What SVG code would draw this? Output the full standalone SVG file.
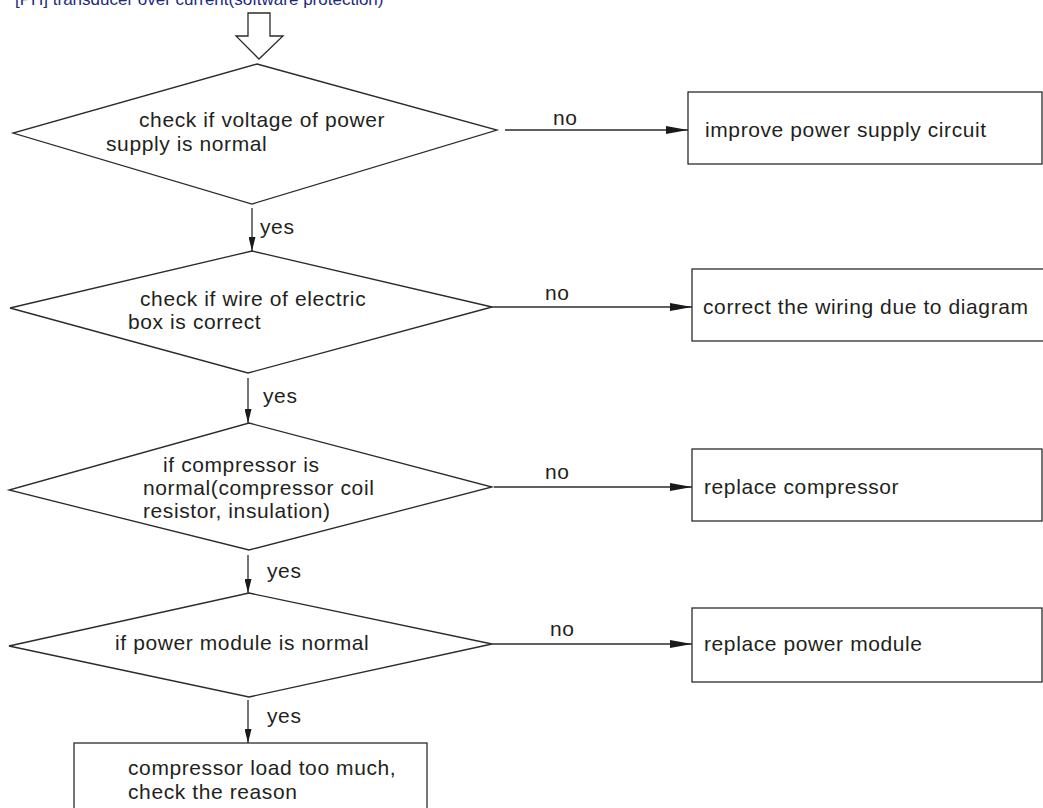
<svg xmlns="http://www.w3.org/2000/svg" width="1043" height="808" viewBox="0 0 1043 808">
  <style>
    .shape { fill: #ffffff; stroke: #2b2b2b; stroke-width: 1.3; }
    .wire { fill: none; stroke: #2b2b2b; stroke-width: 1.3; }
    .txt { font-family: "Liberation Sans", Arial, sans-serif; font-size: 21px; letter-spacing: 0.6px; fill: #231f20; }
    .title { font-family: "Liberation Sans", Arial, sans-serif; font-size: 17px; fill: #1c2a80; }
  </style>
  <defs>
    <marker id="ah" viewBox="0 0 22 8" refX="22" refY="4" markerWidth="22" markerHeight="8" markerUnits="userSpaceOnUse" orient="auto">
      <path d="M0,0 L22,4 L0,8 Z" fill="#1a1a1a"/>
    </marker>
    <marker id="ahs" viewBox="0 0 14 7" refX="14" refY="3.5" markerWidth="14" markerHeight="7" markerUnits="userSpaceOnUse" orient="auto">
      <path d="M0,0 L14,3.5 L0,7 Z" fill="#1a1a1a"/>
    </marker>
  </defs>
  <rect width="1043" height="808" fill="#ffffff"/>

  <!-- heading -->
  <text class="title" x="15" y="5">[PH] transducer over current(software protection)</text>

  <!-- entry arrow -->
  <g id="entry">
    <polygon class="shape" points="248,13 270,13 270,36 283,36 259,59 236,36 248,36"/>
  </g>

  <!-- decisions -->
  <g id="d1">
    <polygon class="shape" points="257,64 497,130 252,204 13,133"/>
    <text class="txt" x="139" y="127">check if voltage of power</text>
    <text class="txt" x="106" y="151">supply is normal</text>
  </g>
  <g id="d2">
    <polygon class="shape" points="252,251 492,307 248,373 10,308"/>
    <text class="txt" x="140" y="306">check if wire of electric</text>
    <text class="txt" x="128" y="329">box is correct</text>
  </g>
  <g id="d3">
    <polygon class="shape" points="249,423 492,487 249,550 9,490"/>
    <text class="txt" x="163" y="472">if compressor is</text>
    <text class="txt" x="143" y="495">normal(compressor coil</text>
    <text class="txt" x="143" y="518">resistor, insulation)</text>
  </g>
  <g id="d4">
    <polygon class="shape" points="249,593 492,644 249,697 9,646"/>
    <text class="txt" x="115" y="650">if power module is normal</text>
  </g>

  <!-- actions -->
  <g id="b1">
    <rect class="shape" x="688" y="92" width="354" height="72"/>
    <text class="txt" x="705" y="137">improve power supply circuit</text>
  </g>
  <g id="b2">
    <rect class="shape" x="692" y="269" width="360" height="72"/>
    <text class="txt" x="703" y="314">correct the wiring due to diagram</text>
  </g>
  <g id="b3">
    <rect class="shape" x="692" y="449" width="350" height="72"/>
    <text class="txt" x="704" y="494">replace compressor</text>
  </g>
  <g id="b4">
    <rect class="shape" x="692" y="608" width="350" height="74"/>
    <text class="txt" x="704" y="651">replace power module</text>
  </g>
  <g id="b5">
    <rect class="shape" x="74" y="743" width="353" height="75"/>
    <text class="txt" x="128" y="775">compressor load too much,</text>
    <text class="txt" x="128" y="799">check the reason</text>
  </g>

  <!-- connectors -->
  <g id="connectors">
    <line class="wire" x1="505" y1="130" x2="688" y2="130" marker-end="url(#ah)"/>
    <line class="wire" x1="492" y1="307" x2="692" y2="307" marker-end="url(#ah)"/>
    <line class="wire" x1="494" y1="487" x2="692" y2="487" marker-end="url(#ah)"/>
    <line class="wire" x1="492" y1="644" x2="692" y2="644" marker-end="url(#ah)"/>
    <line class="wire" x1="252" y1="208" x2="252" y2="251" marker-end="url(#ahs)"/>
    <line class="wire" x1="248" y1="378" x2="248" y2="423" marker-end="url(#ahs)"/>
    <line class="wire" x1="248" y1="555" x2="248" y2="593" marker-end="url(#ahs)"/>
    <line class="wire" x1="248" y1="700" x2="248" y2="743" marker-end="url(#ahs)"/>
    <text class="txt" x="553" y="125">no</text>
    <text class="txt" x="545" y="300">no</text>
    <text class="txt" x="545" y="479">no</text>
    <text class="txt" x="550" y="636">no</text>
    <text class="txt" x="260" y="234">yes</text>
    <text class="txt" x="263" y="403">yes</text>
    <text class="txt" x="267" y="578">yes</text>
    <text class="txt" x="267" y="723">yes</text>
  </g>
</svg>
